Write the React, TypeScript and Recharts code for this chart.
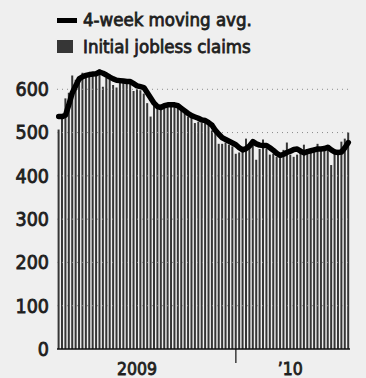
import React from 'react'
import {
  ComposedChart,
  Bar,
  Line,
  XAxis,
  YAxis,
  ReferenceLine,
} from 'recharts'

// weekly initial jobless claims, thousands (week ending Jan 3 2009 onward)
const claims = [
  507, 535, 579, 592, 632, 622, 629, 638, 636, 632,
  641, 636, 646, 606, 628, 622, 610, 604, 618, 615,
  612, 617, 596, 600, 598, 590, 568, 537, 575, 560,
  558, 564, 568, 566, 566, 560, 553, 546, 537, 534,
  522, 525, 522, 522, 520, 505, 502, 474, 474, 477,
  472, 468, 451, 454, 456, 486, 468, 477, 437, 462,
  484, 462, 449, 451, 444, 441, 460, 477, 449, 444,
  449, 454, 472, 454, 460, 465, 474, 465, 461, 468,
  425, 462, 453, 479, 486, 500,
]

const movingAvg = [
  537, 537, 540, 565, 592, 608, 624, 629, 632, 634,
  635, 636, 640, 637, 633, 628, 624, 621, 620, 619,
  618, 618, 613, 608, 606, 604, 592, 580, 568, 560,
  558, 562, 564, 564, 564, 562, 556, 550, 544, 539,
  536, 533, 529, 528, 523, 517, 505, 496, 488, 484,
  480, 476, 472, 465, 460, 463, 469, 479, 474, 471,
  470, 470, 465, 459, 452, 447, 450, 454, 457, 461,
  462, 457, 453, 456, 458, 460, 462, 462, 463, 466,
  460, 455, 454, 455, 465, 477,
]

const FIRST_WEEK = Date.UTC(2009, 0, 3)
const weeks = claims.map((_, i) =>
  new Date(FIRST_WEEK + i * 7 * 86400000).toISOString().slice(0, 10)
)

const yTicks = [0, 100, 200, 300, 400, 500, 600]
const gridLines = [100, 200, 300, 400, 500, 600]

// label weeks; empty label = year divider tick
const xTickLabels: Record<string, string> = {
  '2009-06-13': '2009',
  '2010-01-02': '',
  '2010-04-24': '\u201910',
}

const data = weeks.map((week, i) => ({
  week,
  claims: claims[i],
  avg: movingAvg[i],
}))

const FONT = '"DejaVu Sans Condensed", "DejaVu Sans", sans-serif'
const INK = '#1e1e1e'
// semibold look: regular condensed face with a thin outline
const textStyle = { fontFamily: FONT, fill: INK, stroke: INK, strokeWidth: 0.8 }

function YearTick(props: any) {
  const { x, y, payload } = props
  const label = xTickLabels[payload.value]
  if (label === '') {
    return <line x1={x} x2={x} y1={y} y2={y + 14} stroke="#111" strokeWidth={1.2} />
  }
  return (
    <text x={x} y={y + 26} textAnchor="middle" fontSize={17.5} {...textStyle}>
      {label}
    </text>
  )
}

export default function App() {
  return (
    <div
      style={{
        position: 'absolute',
        left: 0,
        top: 0,
        width: 366,
        height: 378,
        background: '#efefef',
      }}
    >
      <ComposedChart
        width={366}
        height={378}
        data={data}
        margin={{ top: 46, right: 16, bottom: 0, left: 0 }}
        barCategoryGap={0.6}
      >
        <XAxis
          dataKey="week"
          ticks={Object.keys(xTickLabels)}
          interval={0}
          tick={<YearTick />}
          tickLine={false}
          tickSize={0}
          tickMargin={0}
          height={29}
          axisLine={{ stroke: '#111', strokeWidth: 1.5 }}
        />
        <YAxis
          domain={[0, 700]}
          ticks={yTicks}
          width={57}
          axisLine={false}
          tickLine={false}
          tick={{ ...textStyle, fontSize: 19.5 }}
        />
        <Bar dataKey="claims" fill="#363636" isAnimationActive={false} />
        {gridLines.map((v) => (
          <ReferenceLine
            key={v}
            y={v}
            stroke="#8a8a8a"
            strokeWidth={1}
            strokeDasharray="1 4"
          />
        ))}
        <Line
          dataKey="avg"
          type="linear"
          stroke="#000"
          strokeWidth={5.5}
          strokeLinejoin="round"
          strokeLinecap="round"
          dot={false}
          isAnimationActive={false}
        />
      </ComposedChart>
      <svg
        width={366}
        height={60}
        style={{ position: 'absolute', left: 0, top: 0 }}
      >
        <rect x={57} y={18} width={20} height={5} fill="#000" />
        <text x={83} y={26} fontSize={18.5} {...textStyle}>
          4-week moving avg.
        </text>
        <rect x={57} y={40} width={16} height={13} fill="#363636" />
        <text x={83} y={53} fontSize={18.5} {...textStyle}>
          Initial jobless claims
        </text>
      </svg>
    </div>
  )
}
